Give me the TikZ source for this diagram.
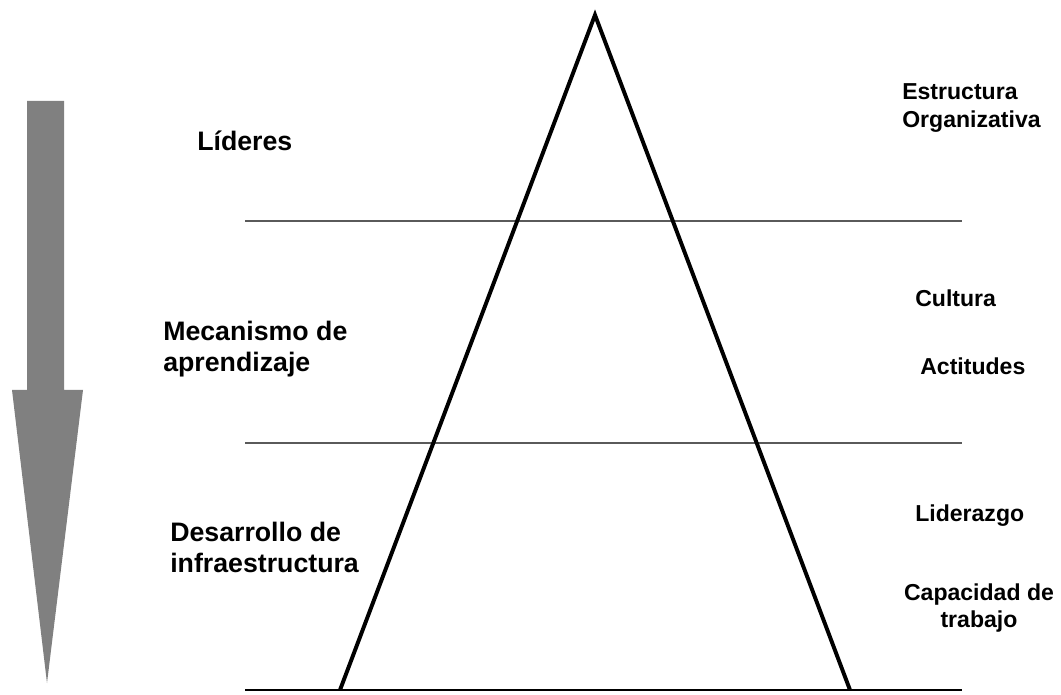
\documentclass[tikz,border=0pt]{standalone}
\usepackage{fontspec}
\setmainfont{Liberation Sans}
\definecolor{arrowgray}{RGB}{128,128,128}
\definecolor{linegray}{RGB}{90,90,90}
\begin{document}
\begin{tikzpicture}[x=0.025cm,y=-0.025cm,
  level/.style={anchor=west,inner sep=0pt,align=left,font=\bfseries\fontsize{19}{22}\selectfont},
  factor/.style={anchor=west,inner sep=0pt,align=left,font=\bfseries\fontsize{16.4}{19.5}\selectfont},
  divider/.style={linegray,line width=1.4pt}]
\useasboundingbox (0,0) rectangle (1061,695);
% flecha
\fill[arrowgray] (27,101) -- (64,101) -- (64,390) -- (83,390) -- (47,683) -- (12,390) -- (27,390) -- cycle;
% piramide
\coordinate (apex) at (595,15);
\coordinate (baseL) at (340,690);
\coordinate (baseR) at (850,690);
\coordinate (div1L) at (245,221);
\coordinate (div1R) at (962,221);
\coordinate (div2L) at (245,443);
\coordinate (div2R) at (962,443);
\coordinate (groundL) at (245,690);
\coordinate (groundR) at (962,690);
\draw[divider] (div1L) -- (div1R);
\draw[divider] (div2L) -- (div2R);
\draw[line width=1.1pt] (groundL) -- (groundR);
\draw[line width=2.8pt,line join=miter] (baseL) -- (apex) -- (baseR);
% niveles
\node[level] (lideres) at (197,141) {Líderes};
\node[level] (mecanismo) at (163,349) {Mecanismo de\\aprendizaje};
\node[level] (desarrollo) at (170,547) {Desarrollo de\\infraestructura};
% factores
\node[factor] (estructura) at (902,108) {Estructura\\Organizativa};
\node[factor] (cultura) at (915,298) {Cultura};
\node[factor] (actitudes) at (920,366) {Actitudes};
\node[factor] (liderazgo) at (915,516) {Liderazgo};
\node[factor,anchor=center,align=center] (capacidad) at (979,608) {Capacidad de\\trabajo};
\end{tikzpicture}
\end{document}
